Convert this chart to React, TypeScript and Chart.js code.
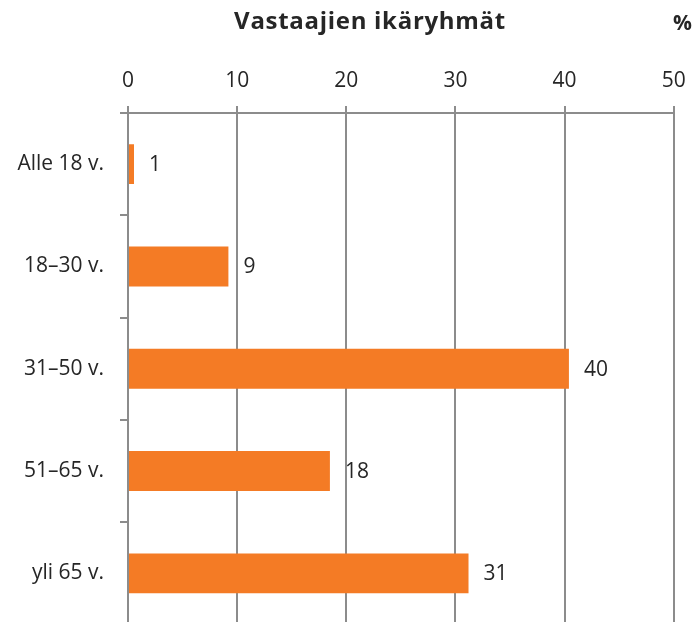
import React, { useEffect, useRef } from "react";
import { Chart, registerables } from "chart.js";

Chart.register(...registerables);

const categories = ["Alle 18 v.", "18–30 v.", "31–50 v.", "51–65 v.", "yli 65 v."];
const values = [0.55, 9.2, 40.4, 18.5, 31.2];
const valueLabels = ["1", "9", "40", "18", "31"];
const xTicks = [0, 10, 20, 30, 40, 50];
const titleText = "Vastaajien ikäryhmät";
const unitText = "%";

const FONT = "'Open Sans', 'Noto Sans', sans-serif";
const GRID = "#8c8c8c";
const TEXT = "#262626";
const BAR = "#F47B25";

export default function App() {
  const ref = useRef<HTMLCanvasElement | null>(null);

  useEffect(() => {
    if (!ref.current) return;
    const overlay = {
      id: "overlay",
      afterDatasetsDraw(chart: any) {
        const ctx = chart.ctx;
        const meta = chart.getDatasetMeta(0);
        ctx.save();
        ctx.fillStyle = TEXT;
        ctx.font = `21px ${FONT}`;
        ctx.textAlign = "left";
        ctx.textBaseline = "middle";
        meta.data.forEach((bar: any, i: number) => {
          ctx.fillText(valueLabels[i], bar.x + 15, bar.y + 1);
        });
        ctx.font = `bold 24px ${FONT}`;
        ctx.textAlign = "left";
        ctx.textBaseline = "alphabetic";
        try { (ctx as any).letterSpacing = "0.7px"; } catch (e) {}
        const w = ctx.measureText(titleText).width;
        ctx.fillText(titleText, 370 - w / 2, 29);
        try { (ctx as any).letterSpacing = "0px"; } catch (e) {}
        ctx.font = `bold 21px ${FONT}`;
        ctx.fillText(unitText, 673, 29.5);
        ctx.restore();
      },
    };

    const chart = new Chart(ref.current, {
      type: "bar",
      data: {
        labels: categories,
        datasets: [
          {
            data: values,
            backgroundColor: BAR,
            borderWidth: 0,
            categoryPercentage: 0.39,
            barPercentage: 1,
          },
        ],
      },
      options: {
        indexAxis: "y",
        responsive: false,
        animation: false,
        layout: { padding: { top: 0, left: 0, right: 21.3, bottom: 15.5 } },
        plugins: {
          legend: { display: false },
          title: { display: false },
          tooltip: { enabled: false },
        },
        scales: {
          x: {
            position: "top",
            min: xTicks[0],
            max: xTicks[xTicks.length - 1],
            afterBuildTicks: (scale: any) => {
              scale.ticks = xTicks.map((v) => ({ value: v }));
            },
            ticks: {
              font: { family: FONT, size: 21 },
              color: TEXT,
              padding: 12,
            },
            grid: {
              color: GRID,
              lineWidth: 2,
              tickLength: 7,
              drawTicks: true,
            },
            border: { display: true, color: GRID, width: 2 },
            afterFit: (scale: any) => {
              scale.height = 113;
              scale.paddingLeft = 0;
              scale.paddingRight = 0;
            },
          },
          y: {
            type: "category",
            offset: true,
            ticks: {
              font: { family: FONT, size: 21 },
              color: TEXT,
              padding: 16,
            },
            grid: {
              display: true,
              drawOnChartArea: false,
              offset: true,
              color: GRID,
              lineWidth: 2,
              tickLength: 8,
            },
            border: { display: true, color: GRID, width: 2 },
            afterFit: (scale: any) => {
              scale.width = 128;
              scale.paddingTop = 0;
              scale.paddingBottom = 0;
            },
          },
        },
      },
      plugins: [overlay],
    } as any);
    return () => chart.destroy();
  }, []);

  return (
    <div style={{ position: "fixed", top: 0, left: 0, width: 695, height: 640, overflow: "hidden", background: "#fff" }}>
      <canvas ref={ref} width={695} height={640} style={{ display: "block" }} />
    </div>
  );
}
